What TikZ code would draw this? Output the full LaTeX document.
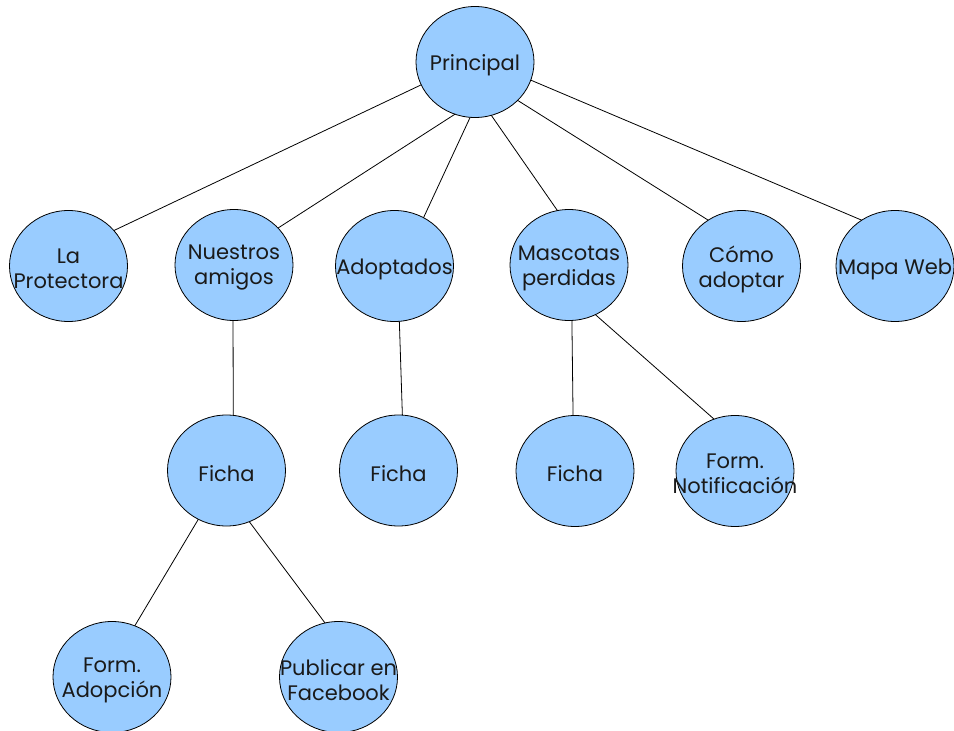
\documentclass[tikz,border=0pt]{standalone}
\usepackage{fontspec}
\setmainfont{Poppins}
\usetikzlibrary{shapes.geometric}
\definecolor{bubble}{HTML}{99CCFF}
\definecolor{ink}{HTML}{1A1A1A}
\tikzset{
  bub/.style={ellipse, draw=black, line width=0.8pt, fill=bubble,
    minimum width=118pt, minimum height=111pt, inner sep=0pt, outer sep=0pt},
  lbl/.style={align=center, text=ink, font=\fontsize{21}{25}\selectfont, inner sep=0pt, yshift=-3pt},
  link/.style={draw=black, line width=0.8pt}
}
\begin{document}
\begin{tikzpicture}[x=1pt,y=-1pt]
\useasboundingbox (0,0) rectangle (954,731);
\node[bub, label={[lbl]center:Principal}] (P) at (475,62) {};
\node[bub, label={[lbl]center:La\\Protectora}] (LP) at (68.5,266) {};
\node[bub, label={[lbl]center:Nuestros\\amigos}] (NA) at (234,265) {};
\node[bub, label={[lbl]center:Adoptados}] (AD) at (394.5,266) {};
\node[bub, label={[lbl]center:Mascotas\\perdidas}] (MP) at (569,265) {};
\node[bub, label={[lbl]center:Cómo\\adoptar}] (CA) at (741.5,266) {};
\node[bub, label={[lbl]center:Mapa Web}] (MW) at (895,266) {};
\node[bub, label={[lbl]center:Ficha}] (F1) at (226.5,470.5) {};
\node[bub, label={[lbl]center:Ficha}] (F2) at (398.5,470.5) {};
\node[bub, label={[lbl]center:Ficha}] (F3) at (575,471) {};
\node[bub, label={[lbl]center:Form.\\Notificación}] (FN) at (735,471) {};
\node[bub, label={[lbl]center:Form.\\Adopción}] (FA) at (112,677) {};
\node[bub, label={[lbl]center:Publicar en\\Facebook}] (PF) at (338.5,677) {};

\draw[link] (P.203.6) -- (LP.38.5);
\draw[link] (P.249.3) -- (NA.40.8);
\draw[link] (P.265) -- (AD.59.8);
\draw[link] (P.287.2) -- (MP.102.8);
\draw[link] (P.318.5) -- (CA.126.9);
\draw[link] (P.342) -- (MW.126.3);
\draw[link] (NA.269) -- (F1.83.3);
\draw[link] (AD.275.6) -- (F2.86.4);
\draw[link] (MP.273) -- (F3.92);
\draw[link] (MP.298.8) -- (FN.112.5);
\draw[link] (F1.240.6) -- (FA.66);
\draw[link] (F1.294) -- (PF.104.6);
\end{tikzpicture}
\end{document}
